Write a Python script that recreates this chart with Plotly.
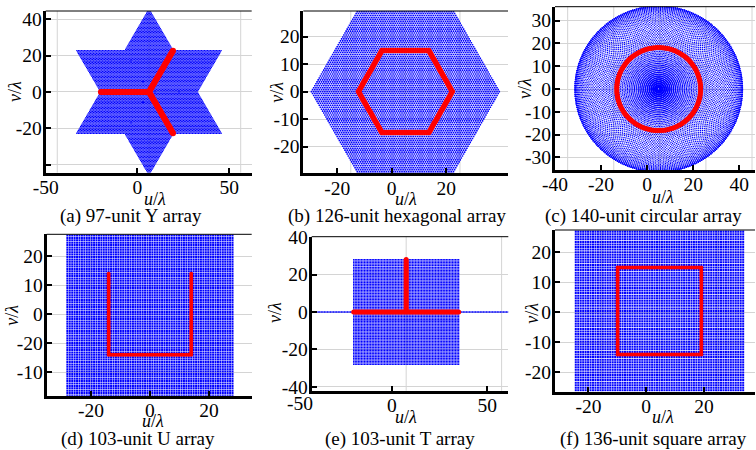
import numpy as np
import plotly.graph_objects as go

W, H = 756, 450
FONT = "Liberation Serif"

# ---------------- data (antenna layouts, read from the red markers) ----------------
# (a) 97-unit Y array: centre + 3 arms of 32 units
Y_CENTER = [6.3, 0.0]
Y_ARM_ENDS = [[-19.9, 0.0], [19.4, 22.7], [19.4, -22.7]]
Y_UNITS_PER_ARM = 32
Y_UV_OFFSET = [6.3, 0.0]

# (b) 126-unit hexagonal array: 6 sides x 21 units
HEX_VERTICES = [[-12.2, 0.0], [-3.6, 14.9], [13.6, 14.9], [22.2, 0.0], [13.6, -14.9], [-3.6, -14.9]]
HEX_UNITS_PER_SIDE = 21
HEX_UV_OFFSET = [5.0, 0.0]

# (c) 140-unit circular array
CIRC_CENTER = [5.0, 0.0]
CIRC_RADIUS = 18.2
CIRC_UNITS = 140
CIRC_UV_OFFSET = [5.0, 0.0]

# (d) 103-unit U array: start corner + 3 sides x 34 units
U_CORNERS = [[-14.0, 14.0], [-14.0, -14.0], [14.0, -14.0], [14.0, 14.0]]
U_UNITS_PER_SIDE = 34
U_UV_OFFSET = [0.0, 0.0]

# (e) 103-unit T array: bar of 69 units + stem of 34 units
T_BAR = [[-20.0, 0.0], [35.0, 0.0]]
T_BAR_UNITS = 69
T_STEM = [[7.5, 0.0], [7.5, 28.0]]
T_STEM_UNITS = 34
T_UV_OFFSET = [7.5, 0.0]

# (f) 136-unit square array: 4 sides x 34 units
SQ_CORNERS = [[-9.9, -14.1], [19.1, -14.1], [19.1, 14.9], [-9.9, 14.9]]
SQ_UNITS_PER_SIDE = 34
SQ_UV_OFFSET = [4.6, 0.4]

# tick values / labels
A_XT, A_XTT = [-50, 0, 50], ["-50", "0", "50"]
A_YT, A_YTT = [-40, -20, 0, 20, 40], ["", "-20", "0", "20", "40"]
B_XT, B_XTT = [-20, 0, 20], ["-20", "0", "20"]
B_YT, B_YTT = [-20, -10, 0, 10, 20], ["-20", "-10", "0", "10", "20"]
C_XT, C_XTT = [-40, -20, 0, 20, 40], ["-40", "-20", "0", "20", "40"]
C_YT, C_YTT = [-30, -20, -10, 0, 10, 20, 30], ["-30", "-20", "-10", "0", "10", "20", "30"]
D_XT, D_XTT = [-20, 0, 20], ["-20", "0", "20"]
D_YT, D_YTT = [20, 10, 0, -10, -20], ["20", "10", "0", "-20", "-10"]
E_XT, E_XTT = [0, 50], ["0", "50"]
E_YT, E_YTT = [-40, -20, 0, 20, 40], ["-40", "-20", "0", "20", "40"]
F_XT, F_XTT = [-20, 0, 20], ["-20", "0", "20"]
F_YT, F_YTT = [-20, -10, 0, 10, 20], ["-20", "-10", "0", "10", "20"]

CAPTIONS = ["(a) 97-unit Y array", "(b) 126-unit hexagonal array", "(c) 140-unit circular array",
            "(d) 103-unit U array", "(e) 103-unit T array", "(f) 136-unit square array"]


# ---------------- geometry helpers ----------------
def seg(p0, p1, n):
    p0 = np.asarray(p0, float)
    p1 = np.asarray(p1, float)
    t = np.linspace(0, 1, n + 1)[:, None]
    return p0 + t * (p1 - p0)


def y_array():
    pts = [np.asarray([Y_CENTER], float)]
    for e in Y_ARM_ENDS:
        pts.append(seg(Y_CENTER, e, Y_UNITS_PER_ARM)[1:])
    return np.vstack(pts)


def hex_array():
    v = HEX_VERTICES
    return np.vstack([seg(v[i], v[(i + 1) % 6], HEX_UNITS_PER_SIDE)[:-1] for i in range(6)])


def circ_array():
    th = 2 * np.pi * np.arange(CIRC_UNITS) / CIRC_UNITS
    return np.column_stack([CIRC_CENTER[0] + CIRC_RADIUS * np.cos(th),
                            CIRC_CENTER[1] + CIRC_RADIUS * np.sin(th)])


def u_array():
    c = U_CORNERS
    pts = [np.asarray([c[0]], float)]
    for i in range(3):
        pts.append(seg(c[i], c[i + 1], U_UNITS_PER_SIDE)[1:])
    return np.vstack(pts)


def t_array():
    bar = seg(T_BAR[0], T_BAR[1], T_BAR_UNITS - 1)
    stem = seg(T_STEM[0], T_STEM[1], T_STEM_UNITS)[1:]
    return np.vstack([bar, stem])


def sq_array():
    c = SQ_CORNERS
    return np.vstack([seg(c[i], c[(i + 1) % 4], SQ_UNITS_PER_SIDE)[:-1] for i in range(4)])


def uv(P, off, xr, yr):
    d = (P[:, None, :] - P[None, :, :]).reshape(-1, 2) + np.asarray(off)
    d = np.unique(np.round(d, 2), axis=0)
    m = (d[:, 0] > xr[0] - 1) & (d[:, 0] < xr[1] + 1) & (d[:, 1] > yr[0] - 1) & (d[:, 1] < yr[1] + 1)
    return d[m]


# ---------------- panel layout (pixels) ----------------
panels = [
    dict(P=y_array(), off=Y_UV_OFFSET, dom=(45.7, 251.7, 11, 172.7), xr=[-50, 62.3], yr=[-44.4, 44.5],
         xt=A_XT, xtt=A_XTT, yt=A_YT, ytt=A_YTT, vgrid=[-43.7, 6.3, 56.3], rs=6, bs=1.3,
         xl=(155, 199), yl=(15, 92), cap=(131, 216.5)),
    dict(P=hex_array(), off=HEX_UV_OFFSET, dom=(303.3, 508, 11, 173.3), xr=[-32.4, 42.6], yr=[-29.7, 29.3],
         xt=B_XT, xtt=B_XTT, yt=B_YT, ytt=B_YTT, vgrid=[-15, 5, 25], rs=5.5, bs=1.6,
         xl=(405.7, 199), yl=(276.7, 92), cap=(397, 216.5)),
    dict(P=circ_array(), off=CIRC_UV_OFFSET, dom=(555, 755, 6.7, 170), xr=[-40, 46.8], yr=[-35.5, 36.1],
         xt=C_XT, xtt=C_XTT, yt=C_YT, ytt=C_YTT, vgrid=[-34.5, -14.5, 5.5, 25.5, 45.5], rs=5, bs=1.2,
         xl=(663, 196.7), yl=(525, 89), cap=(643, 216)),
    dict(P=u_array(), off=U_UV_OFFSET, dom=(46.7, 251.7, 234.3, 395.7), xr=[-35, 34.5], yr=[-28.1, 27.6],
         xt=D_XT, xtt=D_XTT, yt=D_YT, ytt=D_YTT, vgrid=[-20, 0, 20], rs=4, bs=2.0,
         xl=(153, 421), yl=(11.7, 315), cap=(137.7, 439)),
    dict(P=t_array(), off=T_UV_OFFSET, dom=(311.7, 508.3, 236.7, 390.7), xr=[-42, 61], yr=[-42, 40.2],
         xt=E_XT, xtt=E_XTT, yt=E_YT, ytt=E_YTT, vgrid=[-42.5, 7.5, 57.5], rs=5, bs=1.3,
         xl=(405.7, 416.7), yl=(275, 313), cap=(400, 438.5)),
    dict(P=sq_array(), off=SQ_UV_OFFSET, dom=(555, 755, 230, 391.7), xr=[-31.6, 37.7], yr=[-26.5, 27.4],
         xt=F_XT, xtt=F_XTT, yt=F_YT, ytt=F_YTT, vgrid=[-15.4, 4.6, 24.6], rs=4, bs=2.0,
         xl=(663, 416.7), yl=(531.7, 313), cap=(653, 438.5)),
]

TICK_SIZE = 19.5
TITLE_SIZE = 18
CAP_SIZE = 19

fig = go.Figure()
shapes, annotations = [], []
layout = dict(width=W, height=H, autosize=False, margin=dict(l=0, r=0, t=0, b=0, pad=0),
              paper_bgcolor="white", plot_bgcolor="white", showlegend=False,
              font=dict(family=FONT, size=18, color="black"))


def px(x):
    return x / W


def py(y):
    return 1 - y / H


for i, p in enumerate(panels, start=1):
    xa = "x" if i == 1 else f"x{i}"
    ya = "y" if i == 1 else f"y{i}"
    xkey = "xaxis" if i == 1 else f"xaxis{i}"
    ykey = "yaxis" if i == 1 else f"yaxis{i}"
    x0, x1, y0, y1 = p["dom"]
    common = dict(showline=True, linecolor="black", linewidth=3, ticks="inside", ticklen=5,
                  tickwidth=2, tickcolor="black", zeroline=False, automargin=False,
                  tickfont=dict(family=FONT, size=TICK_SIZE, color="black"), fixedrange=True)
    layout[xkey] = dict(domain=[px(x0), px(x1)], range=p["xr"], anchor=ya, showgrid=False,
                        ticklabelstandoff=-5,
                        tickmode="array", tickvals=p["xt"], ticktext=p["xtt"], **common)
    layout[ykey] = dict(domain=[py(y1), py(y0)], range=p["yr"], anchor=xa, showgrid=True,
                        gridcolor="#d4d4d4", gridwidth=1, ticklabelstandoff=-3,
                        tickmode="array", tickvals=p["yt"], ticktext=p["ytt"], **common)
    for g in p["vgrid"]:
        shapes.append(dict(type="line", xref=xa, yref=f"{ya} domain", x0=g, x1=g, y0=0, y1=1,
                           line=dict(color="#d4d4d4", width=1), layer="below"))
    shapes.append(dict(type="line", xref=f"{xa} domain", yref=f"{ya} domain", x0=0, x1=1, y0=1, y1=1,
                       line=dict(color="black", width=1), layer="above"))
    d = uv(p["P"], p["off"], p["xr"], p["yr"])
    fig.add_trace(go.Scatter(x=d[:, 0], y=d[:, 1], mode="markers", xaxis=xa, yaxis=ya,
                             marker=dict(size=p["bs"], color="#0000ff", symbol="square",
                                         line=dict(width=0)), hoverinfo="skip"))
    fig.add_trace(go.Scatter(x=p["P"][:, 0], y=p["P"][:, 1], mode="markers", xaxis=xa, yaxis=ya,
                             marker=dict(size=p["rs"], color="#ff0000", line=dict(width=0)),
                             hoverinfo="skip"))
    annotations.append(dict(text="<i>u</i>/<i>λ</i>", x=px(p["xl"][0]), y=py(p["xl"][1]),
                            xref="paper", yref="paper", showarrow=False, xanchor="center",
                            yanchor="middle", font=dict(family=FONT, size=TITLE_SIZE)))
    annotations.append(dict(text="<i>v</i>/<i>λ</i>", x=px(p["yl"][0]), y=py(p["yl"][1]),
                            xref="paper", yref="paper", showarrow=False, xanchor="center",
                            yanchor="middle", textangle=-90, font=dict(family=FONT, size=TITLE_SIZE)))
    annotations.append(dict(text=CAPTIONS[i - 1], x=px(p["cap"][0]), y=py(p["cap"][1]),
                            xref="paper", yref="paper", showarrow=False, xanchor="center",
                            yanchor="middle", font=dict(family=FONT, size=CAP_SIZE)))

# "-50" label of panel (e), whose tick lies just left of the plotted range
annotations.append(dict(text="-50", x=px(300), y=py(403), xref="paper", yref="paper", showarrow=False,
                        xanchor="center", yanchor="middle", font=dict(family=FONT, size=TICK_SIZE)))

layout["shapes"] = shapes
layout["annotations"] = annotations
fig.update_layout(**layout)
fig.write_html("out.html", config={"displayModeBar": False},
               post_script="document.body.style.margin='0';document.body.style.overflow='hidden';")
